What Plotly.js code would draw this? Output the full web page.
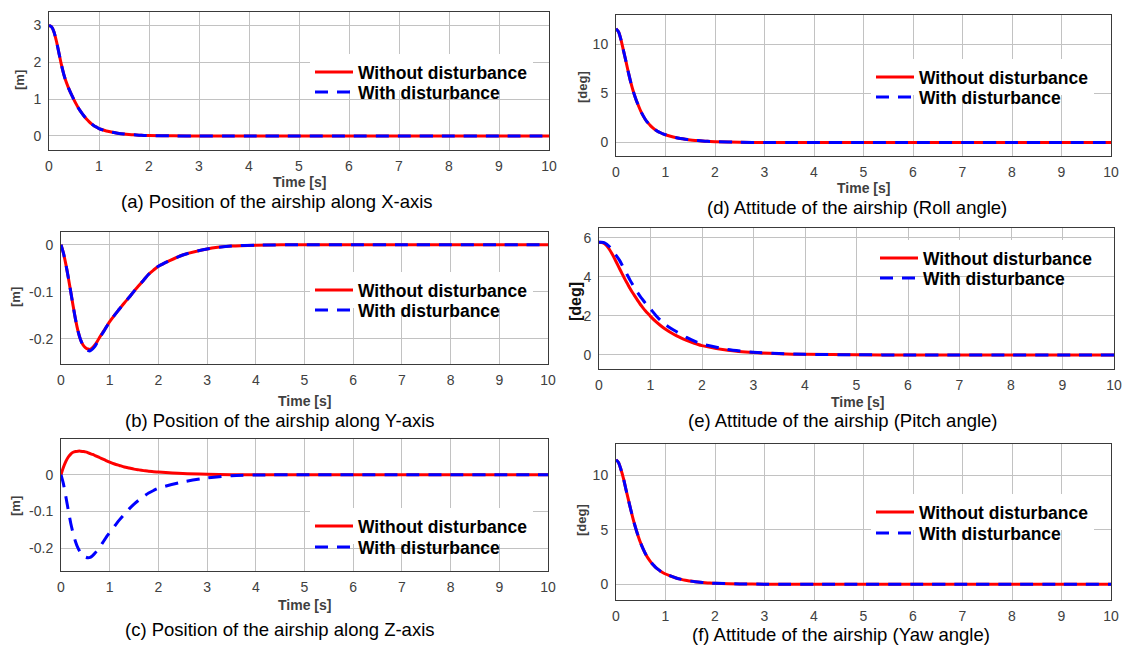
<!DOCTYPE html>
<html><head><meta charset="utf-8">
<script src="https://cdn.plot.ly/plotly-3.0.1.min.js"></script>
<style>html,body{margin:0;padding:0;background:#fff;overflow:hidden}#chart{width:1128px;height:646px}</style>
</head><body><div id="chart"></div>
<script>
// ---------------- data ----------------
const time = [0,0.05,0.1,0.15,0.2,0.25,0.3,0.35,0.4,0.45,0.5,0.55,0.6,0.65,0.7,0.75,0.8,0.85,0.9,0.95,1.0,
              1.1,1.2,1.3,1.4,1.5,1.6,1.7,1.8,1.9,2.0,
              2.5,3,3.5,4,5,6,7,8,9,10];

const posX_without = [3.0,2.96,2.82,2.56,2.24,1.92,1.65,1.44,1.27,1.12,0.98,0.85,0.73,0.63,0.54,0.46,0.39,0.33,0.28,0.24,0.2,
                      0.155,0.12,0.092,0.07,0.053,0.04,0.03,0.022,0.016,0.012,
                      0.003,0.001,0,0,0,0,0,0,0,0];
const posX_with    = [3.0,2.96,2.82,2.56,2.24,1.92,1.65,1.44,1.27,1.12,0.98,0.85,0.73,0.63,0.54,0.46,0.39,0.33,0.28,0.24,0.2,
                      0.155,0.12,0.092,0.07,0.053,0.04,0.03,0.022,0.016,0.012,
                      0.003,0.001,0,0,0,0,0,0,0,0];

const posY_without = [0,-0.018,-0.042,-0.07,-0.1,-0.131,-0.16,-0.184,-0.202,-0.213,-0.219,-0.222,-0.223,-0.219,-0.213,-0.205,-0.196,-0.188,-0.18,-0.172,-0.164,
                      -0.15,-0.137,-0.124,-0.112,-0.099,-0.087,-0.075,-0.063,-0.054,-0.046,
                      -0.022,-0.009,-0.003,-0.001,0,0,0,0,0,0];
const posY_with    = [0,-0.018,-0.042,-0.07,-0.1,-0.131,-0.16,-0.184,-0.202,-0.214,-0.221,-0.225,-0.226,-0.222,-0.216,-0.207,-0.198,-0.189,-0.181,-0.172,-0.164,
                      -0.15,-0.137,-0.124,-0.112,-0.099,-0.087,-0.075,-0.063,-0.054,-0.046,
                      -0.022,-0.009,-0.003,-0.001,0,0,0,0,0,0];

const posZ_without = [0,0.02,0.036,0.048,0.056,0.061,0.063,0.064,0.064,0.063,0.062,0.06,0.057,0.055,0.052,0.049,0.046,0.043,0.04,0.037,0.034,
                      0.029,0.025,0.021,0.018,0.015,0.013,0.011,0.009,0.008,0.007,
                      0.003,0.001,0,0,0,0,0,0,0,0];
const posZ_with    = [0,-0.025,-0.06,-0.097,-0.132,-0.16,-0.183,-0.2,-0.212,-0.22,-0.224,-0.226,-0.225,-0.22,-0.213,-0.205,-0.196,-0.186,-0.176,-0.166,-0.157,
                      -0.14,-0.123,-0.108,-0.093,-0.08,-0.069,-0.059,-0.05,-0.043,-0.037,
                      -0.02,-0.009,-0.003,-0.001,0,0,0,0,0,0];

const roll_without = [11.6,11.3,10.5,9.4,8.3,7.15,6.1,5.2,4.45,3.8,3.2,2.72,2.3,1.98,1.7,1.47,1.27,1.12,1.0,0.89,0.8,
                      0.65,0.52,0.42,0.34,0.27,0.22,0.18,0.14,0.11,0.09,
                      0.03,0.01,0,0,0,0,0,0,0,0];
const roll_with    = [11.6,11.3,10.5,9.4,8.3,7.15,6.1,5.2,4.45,3.8,3.2,2.72,2.3,1.98,1.7,1.47,1.27,1.12,1.0,0.89,0.8,
                      0.65,0.52,0.42,0.34,0.27,0.22,0.18,0.14,0.11,0.09,
                      0.03,0.01,0,0,0,0,0,0,0,0];

const pitch_without = [5.78,5.77,5.72,5.6,5.42,5.2,4.95,4.69,4.42,4.16,3.9,3.66,3.42,3.2,3.0,2.8,2.6,2.43,2.27,2.12,1.98,
                       1.72,1.5,1.31,1.14,0.99,0.86,0.75,0.65,0.56,0.48,
                       0.24,0.12,0.06,0.03,0.01,0,0,0,0,0];
const pitch_with    = [5.78,5.78,5.76,5.68,5.56,5.4,5.22,5.04,4.85,4.6,4.35,4.1,3.85,3.62,3.4,3.2,3.0,2.83,2.66,2.51,2.36,
                       2.04,1.76,1.54,1.36,1.2,1.05,0.9,0.77,0.66,0.56,
                       0.28,0.14,0.07,0.03,0.01,0,0,0,0,0];

const yaw_without = [11.4,11.15,10.5,9.7,8.7,7.75,6.8,5.9,5.1,4.38,3.75,3.22,2.75,2.37,2.05,1.78,1.55,1.36,1.2,1.06,0.94,
                     0.76,0.6,0.47,0.36,0.29,0.23,0.18,0.14,0.11,0.09,
                     0.03,0.01,0,0,0,0,0,0,0,0];
const yaw_with    = [11.4,11.15,10.5,9.7,8.7,7.75,6.8,5.9,5.1,4.38,3.75,3.22,2.75,2.37,2.05,1.78,1.55,1.36,1.2,1.06,0.94,
                     0.76,0.6,0.47,0.36,0.29,0.23,0.18,0.14,0.11,0.09,
                     0.03,0.01,0,0,0,0,0,0,0,0];

const timeTicks = [0,1,2,3,4,5,6,7,8,9,10];
const ticksPosX = [0,1,2,3];            const labelsPosX = ["0","1","2","3"];
const ticksPosYZ = [-0.2,-0.1,0];        const labelsPosYZ = ["-0.2","-0.1","0"];
const ticksRollYaw = [0,5,10];           const labelsRollYaw = ["0","5","10"];
const ticksPitch = [0,2,4,6];            const labelsPitch = ["0","2","4","6"];

const seriesNames = ["Without disturbance","With disturbance"];
const captions = [
  "(a) Position of the airship along X-axis",
  "(b) Position of the airship along Y-axis",
  "(c) Position of the airship along Z-axis",
  "(d) Attitude of the airship (Roll angle)",
  "(e) Attitude of the airship (Pitch angle)",
  "(f) Attitude of the airship (Yaw angle)"
];
const xTitle = "Time [s]";
const unitM = "[m]", unitDeg = "[deg]";

// ---------------- layout helpers ----------------
const W = 1128, H = 646;
const fx = v => v / W;
const fy = v => 1 - v / H;
const FONT = '"Liberation Sans", Arial, Helvetica, sans-serif';
const GRAY = '#404040';

const panels = [
  {box:[49,549,12,150],  yr:[-0.38,3.36], tv:ticksPosX, tt:labelsPosX, a:posX_without, b:posX_with,
   yt:unitM, ytp:[20,80], ytf:{size:13,color:GRAY}, xtp:[299,182], cap:captions[0], cp:[277,201], lx:315, ly:[72,92]},
  {box:[61,548,232,364], yr:[-0.254,0.027], tv:ticksPosYZ, tt:labelsPosYZ, a:posY_without, b:posY_with,
   yt:unitM, ytp:[15,297], ytf:{size:13,color:GRAY}, xtp:[304,401], cap:captions[1], cp:[280,420], lx:315, ly:[290,310]},
  {box:[61,548,439,571], yr:[-0.262,0.097], tv:ticksPosYZ, tt:labelsPosYZ, a:posZ_without, b:posZ_with,
   yt:unitM, ytp:[15,506], ytf:{size:13,color:GRAY}, xtp:[304,605], cap:captions[2], cp:[280,629], lx:315, ly:[526,547]},
  {box:[616,1111,15,156], yr:[-1.37,13.0], tv:ticksRollYaw, tt:labelsRollYaw, a:roll_without, b:roll_with,
   yt:unitDeg, ytp:[582,87], ytf:{size:13,color:GRAY}, xtp:[863,188], cap:captions[3], cp:[857,208], lx:876, ly:[77,97]},
  {box:[599,1114,228,369], yr:[-0.72,6.51], tv:ticksPitch, tt:labelsPitch, a:pitch_without, b:pitch_with,
   yt:unitDeg, ytp:[575,302], ytf:{size:16,color:'#111'}, xtp:[857,402], cap:captions[4], cp:[843,420], lx:880, ly:[258,278]},
  {box:[616,1111,444,600], yr:[-1.44,12.84], tv:ticksRollYaw, tt:labelsRollYaw, a:yaw_without, b:yaw_with,
   yt:unitDeg, ytp:[581,520], ytf:{size:13,color:GRAY}, xtp:null, cap:captions[5], cp:[841,634], lx:876, ly:[512,533]}
];

const traces = [];
const layout = {
  width: W, height: H,
  margin: {l:0, r:0, t:0, b:0},
  paper_bgcolor: '#ffffff', plot_bgcolor: '#ffffff',
  font: {family: FONT, color: GRAY},
  annotations: [],
  showlegend: true
};

panels.forEach((p, i) => {
  const n = i + 1;
  const xk = n === 1 ? 'xaxis' : 'xaxis' + n;
  const yk = n === 1 ? 'yaxis' : 'yaxis' + n;
  const common = {
    showline: true, mirror: true, linecolor: '#3a3a3a', linewidth: 1,
    showgrid: true, gridcolor: '#c2c2c2', gridwidth: 1,
    zeroline: false, ticks: '', automargin: false, fixedrange: true,
    tickfont: {family: FONT, size: 14, color: GRAY}
  };
  layout[xk] = Object.assign({}, common, {
    domain: [fx(p.box[0]), fx(p.box[1])], anchor: 'y' + n,
    range: [0, 10], tickmode: 'array', tickvals: timeTicks,
    ticktext: timeTicks.map(String), ticklabelstandoff: 3
  });
  layout[yk] = Object.assign({}, common, {
    domain: [fy(p.box[3]), fy(p.box[2])], anchor: 'x' + n,
    range: p.yr, tickmode: 'array', tickvals: p.tv, ticktext: p.tt,
    ticklabelstandoff: 4
  });

  const l1 = (2 * i + 1) === 1 ? 'legend' : 'legend' + (2 * i + 1);
  const l2 = 'legend' + (2 * i + 2);
  traces.push({
    x: time, y: p.a, type: 'scatter', mode: 'lines', name: seriesNames[0],
    xaxis: 'x' + n, yaxis: 'y' + n, legend: l1,
    line: {color: '#ff0000', width: 3, shape: 'spline', smoothing: 0.7},
    hoverinfo: 'skip'
  });
  traces.push({
    x: time, y: p.b, type: 'scatter', mode: 'lines', name: seriesNames[1],
    xaxis: 'x' + n, yaxis: 'y' + n, legend: l2,
    line: {color: '#0000ff', width: 3, dash: '13px,9px', shape: 'spline', smoothing: 0.7},
    hoverinfo: 'skip'
  });
  [l1, l2].forEach((lk, j) => {
    layout[lk] = {
      x: fx(p.lx - 5), y: fy(p.ly[j]), xanchor: 'left', yanchor: 'middle',
      bgcolor: j === 0 ? '#ffffff' : 'rgba(255,255,255,0)', borderwidth: 0, itemwidth: 38,
      font: {family: FONT, size: 17.5, color: '#000000', weight: 'bold'},
      itemclick: false, itemdoubleclick: false
    };
  });

  layout.annotations.push({
    xref: 'paper', yref: 'paper', x: fx(p.ytp[0]), y: fy(p.ytp[1]),
    text: p.yt, showarrow: false, textangle: -90, xanchor: 'center', yanchor: 'middle',
    font: {family: FONT, size: p.ytf.size, color: p.ytf.color, weight: 'bold'}
  });
  if (p.xtp) {
    layout.annotations.push({
      xref: 'paper', yref: 'paper', x: fx(p.xtp[0]), y: fy(p.xtp[1]),
      text: xTitle, showarrow: false, xanchor: 'center', yanchor: 'middle',
      font: {family: FONT, size: 14, color: GRAY, weight: 'bold'}
    });
  }
  layout.annotations.push({
    xref: 'paper', yref: 'paper', x: fx(p.cp[0]), y: fy(p.cp[1]),
    text: p.cap, showarrow: false, xanchor: 'center', yanchor: 'middle',
    font: {family: FONT, size: 18.5, color: '#000000'}
  });
});

Plotly.newPlot('chart', traces, layout, {staticPlot: true, displayModeBar: false});
</script>
</body></html>
